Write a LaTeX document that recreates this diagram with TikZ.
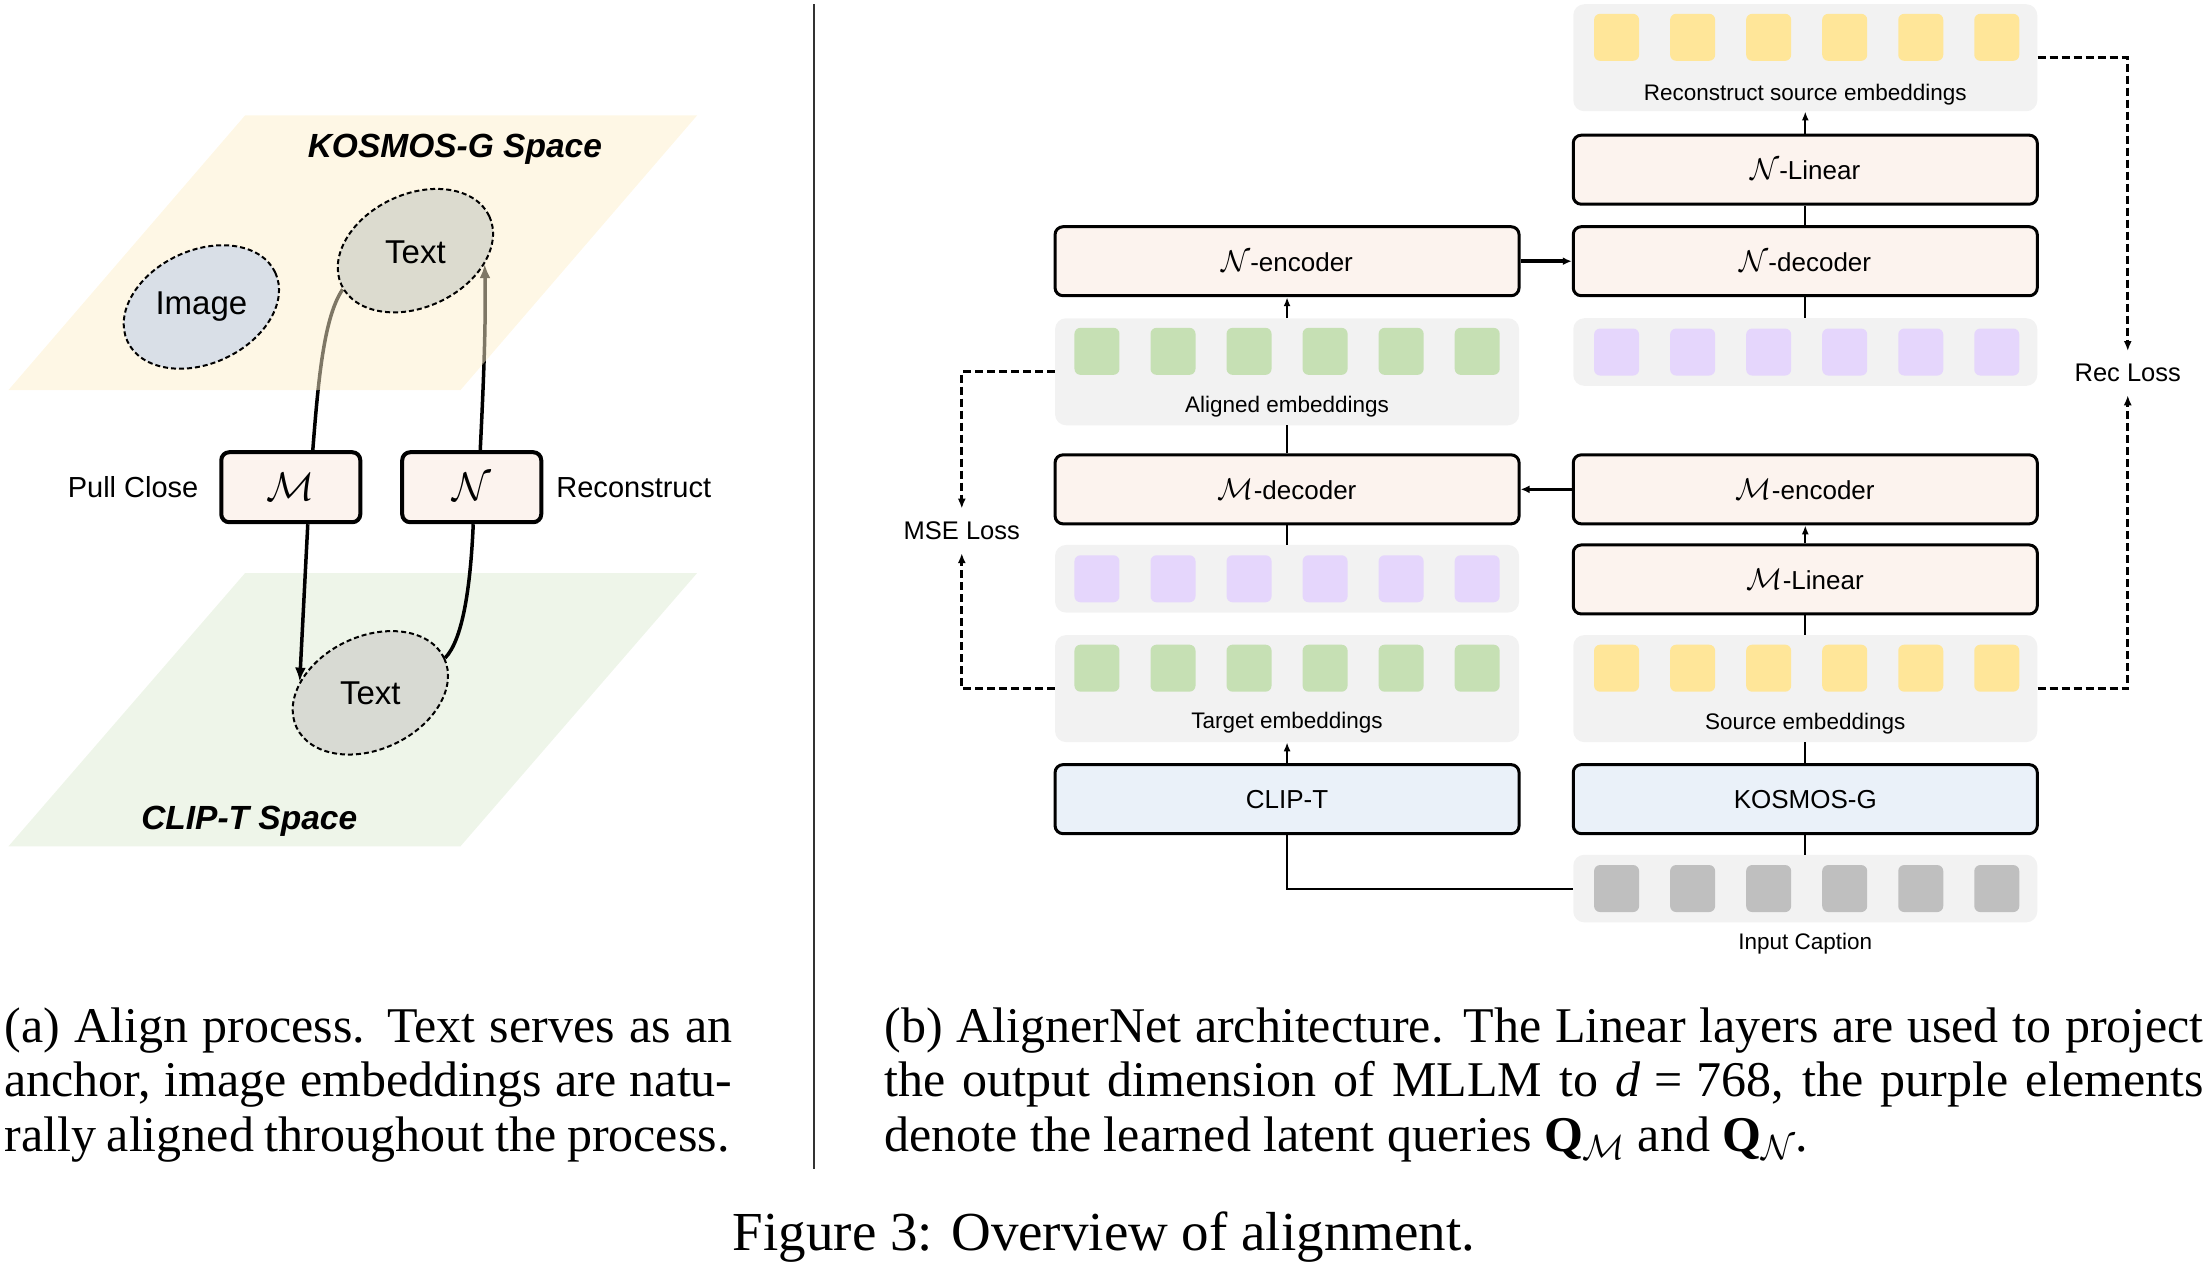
\RequirePackage{fix-cm}
\documentclass[tikz,border=0pt]{standalone}
\usepackage{fontspec}
\setmainfont{Liberation Sans}
\newfontfamily\capfont{Liberation Serif}
\usetikzlibrary{arrows.meta,shapes.geometric,calc}
\definecolor{boxfill}{HTML}{FCF3EE}
\definecolor{bluefill}{HTML}{EAF1F9}
\definecolor{panelgray}{HTML}{F2F2F2}
\definecolor{cgreen}{HTML}{C6E0B4}
\definecolor{cpurple}{HTML}{E5D6FC}
\definecolor{cyellow}{HTML}{FFE699}
\definecolor{cgray}{HTML}{BFBFBF}
\definecolor{kosfill}{HTML}{FDEFCB}
\definecolor{clipfill}{HTML}{EEF5E9}
\definecolor{imgfill}{HTML}{D9DFE7}
\definecolor{txtfillA}{HTML}{DCDBCF}
\definecolor{txtfillB}{HTML}{D8DAD3}
\pgfdeclarelayer{layzero}
\pgfdeclarelayer{layone}
\pgfdeclarelayer{laytwo}
\pgfsetlayers{layzero,layone,laytwo,main}
\newcommand\cellrow[4]{\foreach \i in {0,...,5}{\node[embcell=#4] (#1\i) at ({#2+54*\i},#3) {};}}
\newcommand\calN{{\fontsize{30}{30}\selectfont$\mathcal{N}$}}
\newcommand\calM{{\fontsize{30}{30}\selectfont$\mathcal{M}$}}
\begin{document}
\begin{tikzpicture}[x=1.408pt,y=-1.408pt,
  blkbox/.style={draw, line width=3pt, rounded corners=8pt, fill=boxfill, minimum width=464pt, minimum height=69pt, inner sep=0pt, font=\fontsize{26}{30}\selectfont},
  bluebox/.style={blkbox, fill=bluefill},
  embpanel/.style={fill=panelgray, rounded corners=11pt, minimum width=464pt, inner sep=0pt},
  embcell/.style={fill=#1, rounded corners=6pt, minimum width=45pt, minimum height=47pt, inner sep=0pt},
  panlab/.style={font=\fontsize{22.5}{26}\selectfont, inner sep=0pt},
  losslab/.style={font=\fontsize{25.5}{30}\selectfont, inner xsep=0pt, inner ysep=13pt},
  connline/.style={line width=2pt},
  connarr/.style={connline, -{Latex[length=9pt,width=7pt]}},
  heavyarr/.style={line width=3.5pt, -{Latex[length=9pt,width=8pt]}},
  dashline/.style={line width=2.6pt, dash pattern=on 8pt off 4pt, -{Latex[length=10pt,width=8pt]}},
  ellnode/.style={ellipse, draw, line width=2pt, dash pattern=on 5pt off 3pt, minimum width=163pt, minimum height=113pt, inner sep=0pt, rotate=25},
  ellab/.style={font=\fontsize{33}{38}\selectfont, inner sep=0pt},
  smallbox/.style={draw, line width=4pt, rounded corners=8pt, fill=boxfill, minimum width=139pt, minimum height=70pt, inner sep=0pt, font=\fontsize{40}{44}\selectfont},
  sidelab/.style={font=\fontsize{29}{34}\selectfont, inner sep=0pt},
  spacelab/.style={font=\fontsize{33.5}{38}\selectfont\bfseries\itshape, inner sep=0pt},
  leftline/.style={line width=3.5pt},
  leftarr/.style={leftline, -{Latex[length=14pt,width=11pt]}},
  capnode/.style={font=\capfont\fontsize{50}{55}\selectfont, inner sep=0pt}
]
\useasboundingbox (0,0) rectangle (1568,903);

% ---------------- left panel ----------------
\begin{pgfonlayer}{layzero}
\fill[clipfill] (174,407) -- (495,407) -- (327,601) -- (6,601) -- cycle;
\end{pgfonlayer}
\begin{pgfonlayer}{laytwo}
\fill[kosfill, fill opacity=0.5] (174,82) -- (495,82) -- (327,277) -- (6,277) -- cycle;
\end{pgfonlayer}
\node[spacelab] (kosl) at (323,106) {KOSMOS-G Space};
\node[spacelab] (clipl) at (177,583) {CLIP-T Space};

\node[ellnode, fill=imgfill] (img) at (143,218) {};
\node[ellab] at (img) {Image};
\node[ellnode, fill=txtfillA] (ta) at (295,178) {};
\node[ellab] at ([yshift=-2pt]ta.center) {Text};
\node[ellnode, fill=txtfillB] (tb) at (263,492) {};
\node[ellab] at (tb) {Text};

\node[smallbox] (mb) at (206.5,346) {$\mathcal{M}$};
\node[smallbox] (nb) at (335,346) {$\mathcal{N}$};
\node[sidelab, anchor=east] (pull) at (141,346) {Pull Close};
\node[sidelab, anchor=west] (recon) at (395,346) {Reconstruct};

\begin{pgfonlayer}{layone}
\draw[leftline] (ta.183) .. controls (230,225) and (226,270) .. ([xshift=22pt]mb.north);
\draw[leftarr] ([xshift=17pt]mb.south) -- (tb.146);
\draw[leftline] (tb.east) .. controls (328,455) and (334,420) .. ([xshift=1.5pt]nb.south);
\draw[leftarr] ([xshift=8.5pt]nb.north) .. controls (344,260) and (345,225) .. (ta.324);
\end{pgfonlayer}

% separator
\coordinate (septop) at (578,3);
\coordinate (sepbot) at (578,830);
\draw[line width=1.8pt, black!80] (septop) -- (sepbot);

% ---------------- right panel ----------------
\node[embpanel, minimum height=107pt] (recp) at (1282,41) {};
\cellrow{rc}{1148}{26.5}{cyellow}
\node[panlab] at (1282,67) {Reconstruct source embeddings};
\node[blkbox] (nlin) at (1282,120.5) {\calN-Linear};
\node[blkbox] (ndec) at (1282,185.5) {\calN-decoder};
\node[blkbox] (nenc) at (914,185.5) {\calN-encoder};
\node[embpanel, minimum height=107pt] (alp) at (914,264) {};
\cellrow{ac}{779}{249.5}{cgreen}
\node[panlab] at (914,289) {Aligned embeddings};
\node[embpanel, minimum height=67.6pt] (purR) at (1282,250) {};
\cellrow{pr}{1148}{250}{cpurple}
\node[blkbox] (mdec) at (914,347.5) {\calM-decoder};
\node[blkbox] (menc) at (1282,347.5) {\calM-encoder};
\node[embpanel, minimum height=67.6pt] (purL) at (914,411) {};
\cellrow{pl}{779}{411}{cpurple}
\node[blkbox] (mlin) at (1282,411.5) {\calM-Linear};
\node[embpanel, minimum height=107pt] (tgtp) at (914,489) {};
\cellrow{tc}{779}{474.5}{cgreen}
\node[panlab] at (914,513) {Target embeddings};
\node[embpanel, minimum height=107pt] (srcp) at (1282,489) {};
\cellrow{sc}{1148}{474.5}{cyellow}
\node[panlab] at (1282,514) {Source embeddings};
\node[bluebox] (clipt) at (914,567.5) {CLIP-T};
\node[bluebox] (kos) at (1282,567.5) {KOSMOS-G};
\node[embpanel, minimum height=67.6pt] (inp) at (1282,631) {};
\cellrow{ic}{1148}{631}{cgray}
\node[panlab] at (1282,670) {Input Caption};

\node[losslab] (mse) at (683,377) {MSE Loss};
\node[losslab] (rec) at (1511,265) {Rec Loss};

% connectors
\draw[connarr] (alp.north) -- (nenc.south);
\draw[connline] (mdec.north) -- (alp.south);
\draw[connline] (purL.north) -- (mdec.south);
\draw[connarr] (clipt.north) -- (tgtp.south);
\draw[connline] (ndec.south) -- (purR.north);
\draw[connline] (ndec.north) -- (nlin.south);
\draw[connarr] (nlin.north) -- (recp.south);
\draw[connarr] (mlin.north) -- (menc.south);
\draw[connline] (srcp.north) -- (mlin.south);
\draw[connline] (kos.north) -- (srcp.south);
\draw[connline] (inp.north) -- (kos.south);
\draw[connline] (inp.west) -| (clipt.south);
\draw[heavyarr] (nenc.east) -- (ndec.west);
\draw[heavyarr] (menc.west) -- (mdec.east);

\draw[dashline] (alp.west) -| (mse.north);
\draw[dashline] (tgtp.west) -| (mse.south);
\draw[dashline] (recp.east) -| (rec.north);
\draw[dashline] (srcp.east) -| (rec.south);

% ---------------- captions ----------------
\node[capnode, anchor=base west] (capa1) at (3,740) {\makebox[728pt][s]{(a) Align process. Text serves as an}};
\node[capnode, anchor=base west] (capa2) at (3,779) {\makebox[728pt][s]{anchor, image embeddings are natu-}};
\node[capnode, anchor=base west] (capa3) at (3,818) {\makebox[725pt][s]{rally aligned throughout the process.}};
\node[capnode, anchor=base west] (capb1) at (628,740) {\makebox[1319pt][s]{(b) AlignerNet architecture. The Linear layers are used to project}};
\node[capnode, anchor=base west] (capb2) at (628,779) {\makebox[1319pt][s]{the output dimension of MLLM to {\itshape d}\hspace{0.28em}=\hspace{0.28em}768, the purple elements}};
\node[capnode, anchor=base west] (capb3) at (628,818) {denote the learned latent queries \textbf{Q}$_{\mathcal{M}}$ and \textbf{Q}$_{\mathcal{N}}$.};
\node[capnode, font=\capfont\fontsize{55}{60}\selectfont, anchor=base] (figcap) at (784,888) {Figure 3: Overview of alignment.};
\end{tikzpicture}
\end{document}
